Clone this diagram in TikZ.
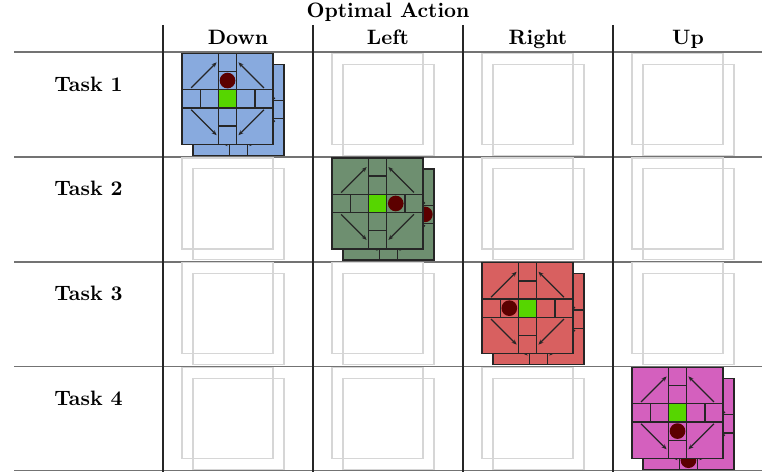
\documentclass[tikz,border=0pt]{standalone}
\usepackage[dvipsnames]{xcolor}
\usepackage{tikz}
\usetikzlibrary{arrows.meta}

\definecolor{taskblue}{RGB}{136,170,222}
\definecolor{taskgreen}{RGB}{110,143,112}
\definecolor{taskred}{RGB}{216,96,96}
\definecolor{taskpink}{RGB}{212,96,190}
\definecolor{goalgreen}{RGB}{86,214,0}
\definecolor{agentred}{RGB}{92,0,0}

% one layer of the grid world
\newcommand\gwlayer[2]{%
  \fill[#1] (0,0) rectangle (5,5);
  \fill[goalgreen] (2,2) rectangle (3,3);
  \draw (0,0) rectangle (5,5)
        (2,0) -- (2,5) (3,0) -- (3,5)
        (0,2) -- (5,2) (0,3) -- (5,3);
  \foreach \k in {1,4}
    \draw (2,\k) -- (3,\k) (\k,2) -- (\k,3);
  \draw[portal] (0.5,3.1) -- (1.9,4.5);
  \draw[portal] (4.5,3.1) -- (3.1,4.5);
  \draw[portal] (0.5,1.9) -- (1.9,0.5);
  \draw[portal] (4.5,1.9) -- (3.1,0.5);
  \fill[agentred] (#2) circle (0.43);
}

\tikzset{
  tablerule/.style={black!55, line width=0.7pt},
  colrule/.style={black!85, line width=0.5pt},
  portal/.style={-{Stealth[length=2.4pt,width=2pt]}, line width=0.6pt},
  pics/gworld/.style n args={3}{code={
    \begin{scope}[x=8.74pt, y=8.74pt, line width=0.65pt, draw=black!85]
      \begin{scope}[shift={(0.6,-0.6)}]
        \gwlayer{#1}{#3}
      \end{scope}
      \gwlayer{#1}{#2}
    \end{scope}}},
  pics/gempty/.style={code={
    \begin{scope}[x=8.74pt, y=8.74pt, line width=0.55pt, draw=black!16]
      \draw (0.6,-0.6) rectangle (5.6,4.4);
      \draw (0,0) rectangle (5,5);
    \end{scope}}}
}

\begin{document}
\begin{tikzpicture}[x=0.48pt, y=-0.48pt, font=\bfseries]
\useasboundingbox (0,0) rectangle (762,472);
%
\node[anchor=base] (title) at (388,18) {Optimal Action};
\foreach \name [count=\j] in {Down,Left,Right,Up}
  \node[anchor=base] (head\j) at (88+150*\j,44.5) {\name};
\foreach \i in {1,...,4}
  \node[anchor=base] (task\i) at (88.5,-13.4+104.7*\i) {Task \i};
%
\draw[tablerule] (14,52) -- (762,52);
\foreach \y in {157,262,366.5,470.5}
  \draw[tablerule] (14,\y) -- (762,\y);
\foreach \x in {163,313,463,613}
  \draw[colrule] (\x,25) -- (\x,472);
%
\foreach \i in {1,...,4}
  \foreach \j in {1,...,4}
    {\ifnum\i=\j\else
       \pic at ({32+150*\j},{39.6+104.7*\i}) {gempty};
     \fi}
%
\foreach \i/\c/\fx/\fy/\bx/\by in
  {1/taskblue/2.5/3.5/2.5/4.5, 2/taskgreen/3.5/2.5/4.5/2.5,
   3/taskred/1.5/2.5/0.5/2.5, 4/taskpink/2.5/1.5/2.5/0.5}
  \pic at ({32+150*\i},{39.6+104.7*\i}) {gworld={\c}{\fx,\fy}{\bx,\by}};
\end{tikzpicture}
\end{document}
